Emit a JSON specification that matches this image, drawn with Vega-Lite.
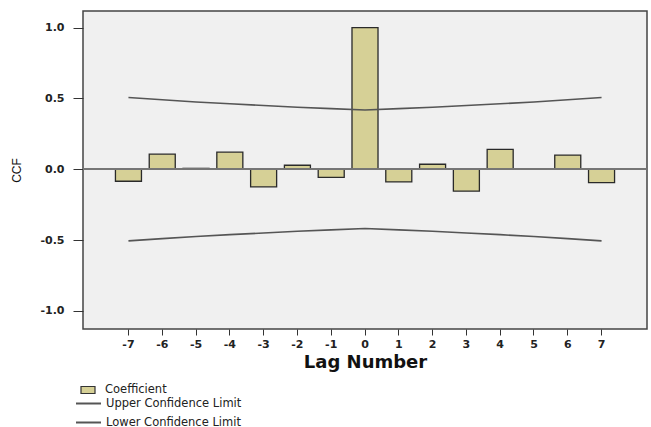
{
  "$schema": "https://vega.github.io/schema/vega-lite/v6.json",
  "width": 564,
  "height": 318,
  "autosize": "none",
  "padding": {"left": 83, "top": 11, "right": 4, "bottom": 98},
  "background": "white",
  "config": {
    "view": {"fill": "#f0f0f0", "stroke": "#444444", "strokeWidth": 1.5},
    "axis": {"grid": false, "domain": false, "labelFont": "DejaVu Sans", "labelFontWeight": "bold", "labelFontSize": 11, "labelColor": "#222222", "tickColor": "#333333", "titleColor": "#111111"},
    "legend": {"labelFont": "DejaVu Sans", "labelFontSize": 11.5, "labelColor": "#222222", "padding": 0}
  },
  "data": {
    "values": [
      {"lag": -7, "coef": -0.085, "upper": 0.506, "lower": -0.506},
      {"lag": -6, "coef": 0.106, "upper": 0.49, "lower": -0.49},
      {"lag": -5, "coef": 0.006, "upper": 0.475, "lower": -0.475},
      {"lag": -4, "coef": 0.12, "upper": 0.462, "lower": -0.462},
      {"lag": -3, "coef": -0.125, "upper": 0.45, "lower": -0.45},
      {"lag": -2, "coef": 0.028, "upper": 0.438, "lower": -0.438},
      {"lag": -1, "coef": -0.057, "upper": 0.428, "lower": -0.428},
      {"lag": 0, "coef": 1.0, "upper": 0.418, "lower": -0.418},
      {"lag": 1, "coef": -0.09, "upper": 0.428, "lower": -0.428},
      {"lag": 2, "coef": 0.035, "upper": 0.438, "lower": -0.438},
      {"lag": 3, "coef": -0.155, "upper": 0.45, "lower": -0.45},
      {"lag": 4, "coef": 0.14, "upper": 0.462, "lower": -0.462},
      {"lag": 5, "coef": 0.0, "upper": 0.475, "lower": -0.475},
      {"lag": 6, "coef": 0.10, "upper": 0.49, "lower": -0.49},
      {"lag": 7, "coef": -0.095, "upper": 0.506, "lower": -0.506}
    ]
  },
  "encoding": {
    "x": {
      "field": "lag", "type": "ordinal",
      "scale": {"paddingInner": 0.23, "paddingOuter": 0.96},
      "axis": {"title": "Lag Number", "labelAngle": 0, "tickSize": 6, "labelPadding": 3, "titleFont": "DejaVu Sans", "titleFontWeight": "bold", "titleFontSize": 18, "titlePadding": 4}
    }
  },
  "layer": [
    {
      "mark": {"type": "bar", "stroke": "#2a2a2a", "strokeWidth": 1.3},
      "encoding": {
        "y": {
          "field": "coef", "type": "quantitative",
          "scale": {"domain": [-1.128, 1.117], "nice": false, "zero": false},
          "axis": {"title": "CCF", "values": [-1, -0.5, 0, 0.5, 1], "labelExpr": "datum.value < 0 ? '-' + format(-datum.value, '.1f') : format(datum.value, '.1f')", "tickSize": 10, "labelPadding": 9, "titleFont": "Liberation Sans", "titleFontSize": 12, "titleFontWeight": "normal", "titleX": -60, "titleY": 159}
        },
        "fill": {
          "datum": "Coefficient", "type": "nominal",
          "scale": {"range": ["#d6d096"]},
          "legend": {"title": null, "orient": "none", "legendX": -3, "legendY": 371, "symbolType": "M-1,-0.5H1V0.5H-1Z", "symbolSize": 196, "symbolStrokeColor": "#333333", "symbolStrokeWidth": 1.2, "labelOffset": 9}
        }
      }
    },
    {
      "mark": {"type": "rule", "color": "#777777", "strokeWidth": 1},
      "encoding": {"y": {"datum": 0, "type": "quantitative"}, "x": {}}
    },
    {
      "mark": {"type": "line", "strokeWidth": 1.6},
      "encoding": {
        "y": {"field": "upper", "type": "quantitative"},
        "stroke": {
          "datum": "Upper Confidence Limit", "type": "nominal",
          "scale": {"domain": ["Upper Confidence Limit", "Lower Confidence Limit"], "range": ["#555555", "#555555"]},
          "legend": {"title": null, "orient": "none", "legendX": -8, "legendY": 379, "symbolType": "stroke", "symbolSize": 625, "symbolStrokeWidth": 2, "labelOffset": 4, "rowPadding": -12}
        }
      }
    },
    {
      "mark": {"type": "line", "strokeWidth": 1.6},
      "encoding": {
        "y": {"field": "lower", "type": "quantitative"},
        "stroke": {"datum": "Lower Confidence Limit", "type": "nominal"}
      }
    }
  ]
}
